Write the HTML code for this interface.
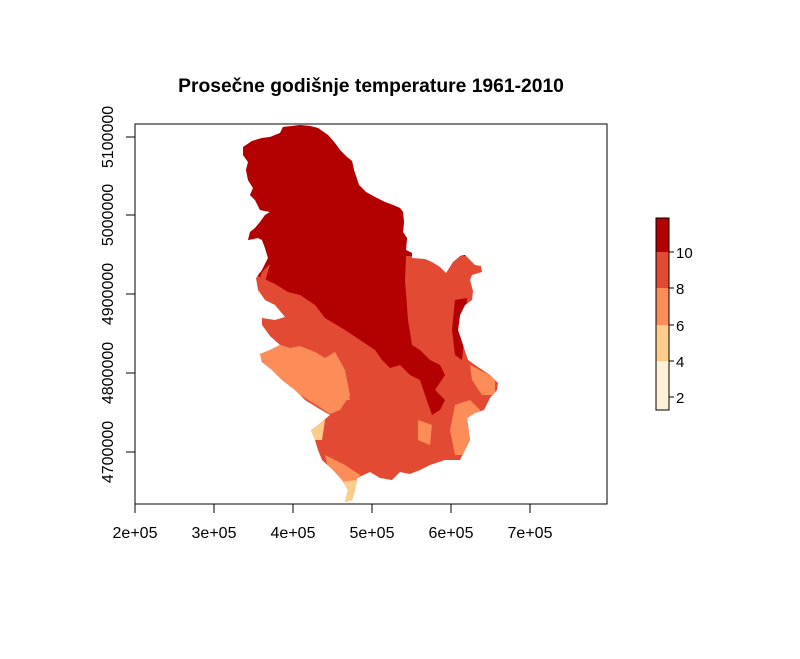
<!DOCTYPE html>
<html><head><meta charset="utf-8"><style>
body{margin:0;background:#fff}
svg{display:block}
text{font-family:"Liberation Sans",sans-serif;fill:#000}
</style></head><body>
<svg width="800" height="659" viewBox="0 0 800 659" xmlns="http://www.w3.org/2000/svg">
<rect width="800" height="659" fill="#fff"/>
<text x="371" y="92" font-size="19.3" font-weight="bold" text-anchor="middle">Prosečne godišnje temperature 1961-2010</text>
<defs><clipPath id="c"><polygon id="outline" points="243,147 252,141 262,138 270,137 280,133 283,127 292,126 300,125 310,126 318,128 328,135 335,143 340,150 347,157 352,161 354,170 359,185 366,192 375,197 385,202 393,205 400,208 403,212 404,222 403,232 407,238 406,250 412,253 412,258 425,259 432,262 440,267 446,273 453,262 460,256 465,255 470,260 475,265 481,266 482,272 472,275 470,280 473,291 472,300 465,305 460,315 458,330 463,345 468,360 478,367 490,375 498,383 497,390 490,398 484,410 475,413 467,418 470,440 465,450 460,460 445,460 430,465 420,470 410,474 400,472 392,480 380,478 370,472 357,478 355,490 352,500 345,502 348,490 342,480 333,470 322,460 318,450 315,440 311,430 318,425 330,415 318,408 305,400 295,390 282,380 272,370 262,362 260,354 270,350 280,345 270,336 262,325 262,318 275,320 285,317 275,305 265,300 258,290 256,278 262,270 268,258 265,248 262,240 258,238 248,240 250,232 255,228 260,222 265,215 270,212 260,210 255,200 250,195 253,188 248,180 246,170 248,162 243,155"/></clipPath></defs>
<g clip-path="url(#c)">
<rect x="230" y="120" width="280" height="390" fill="#E34A33"/>
<polygon fill="#FC8D59" points="258,352 275,343 290,348 300,346 315,352 325,358 335,352 345,370 350,395 340,410 330,414 318,406 305,398 292,390 280,378 266,368"/>
<polygon fill="#FC8D59" points="455,405 470,400 480,410 470,440 465,455 455,455 450,430"/>
<polygon fill="#FC8D59" points="470,365 495,378 495,395 482,395 472,380"/>
<polygon fill="#FC8D59" points="325,455 345,465 360,475 350,500 340,490 330,475"/>
<polygon fill="#FDCC8A" points="340,482 356,480 356,503 343,503"/>
<polygon fill="#FDCC8A" points="308,424 325,420 322,440 312,440"/>
<polygon fill="#FC8D59" points="330,380 345,380 350,400 335,400"/>
<polygon fill="#FC8D59" points="418,420 432,425 430,445 418,440"/>
<polygon fill="#B30000" points="230,120 510,120 510,256 406,256 405,280 408,320 412,345 420,350 430,360 440,365 445,375 435,390 445,400 440,410 432,415 425,395 420,380 410,375 400,365 390,368 382,360 375,350 360,340 345,330 325,318 315,305 300,295 288,292 275,284 258,276 230,272"/>
<polygon fill="#B30000" points="455,300 467,298 465,330 462,360 455,355 452,330"/>
<polygon fill="#E34A33" points="262,272 270,264 265,282 258,285"/>
</g>
<rect x="135" y="124" width="472" height="380" fill="none" stroke="#000" stroke-width="1"/>
<g stroke="#000" stroke-width="1">
<line x1="135" y1="504" x2="135" y2="513"/><line x1="214" y1="504" x2="214" y2="513"/><line x1="293" y1="504" x2="293" y2="513"/><line x1="372" y1="504" x2="372" y2="513"/><line x1="451" y1="504" x2="451" y2="513"/><line x1="530" y1="504" x2="530" y2="513"/>
<line x1="126" y1="137" x2="135" y2="137"/><line x1="126" y1="215" x2="135" y2="215"/><line x1="126" y1="294" x2="135" y2="294"/><line x1="126" y1="373" x2="135" y2="373"/><line x1="126" y1="452" x2="135" y2="452"/>
</g>
<g font-size="16" text-anchor="middle">
<text x="135" y="538">2e+05</text><text x="214" y="538">3e+05</text><text x="293" y="538">4e+05</text><text x="372" y="538">5e+05</text><text x="451" y="538">6e+05</text><text x="530" y="538">7e+05</text>
<text transform="translate(113,137) rotate(-90)">5100000</text>
<text transform="translate(113,215) rotate(-90)">5000000</text>
<text transform="translate(113,294) rotate(-90)">4900000</text>
<text transform="translate(113,373) rotate(-90)">4800000</text>
<text transform="translate(113,452) rotate(-90)">4700000</text>
</g>
<rect x="656" y="218" width="13" height="34" fill="#B30000"/>
<rect x="656" y="252" width="13" height="36" fill="#E34A33"/>
<rect x="656" y="288" width="13" height="37" fill="#FC8D59"/>
<rect x="656" y="325" width="13" height="36" fill="#FDCC8A"/>
<rect x="656" y="361" width="13" height="49" fill="#FEF0D9"/>
<rect x="656" y="218" width="13" height="192" fill="none" stroke="#000"/>
<g stroke="#000"><line x1="669" y1="252" x2="674" y2="252"/><line x1="669" y1="288" x2="674" y2="288"/><line x1="669" y1="325" x2="674" y2="325"/><line x1="669" y1="361" x2="674" y2="361"/><line x1="669" y1="397" x2="674" y2="397"/></g>
<g font-size="15"><text x="676" y="258">10</text><text x="676" y="294">8</text><text x="676" y="331">6</text><text x="676" y="367">4</text><text x="676" y="403">2</text></g>
</svg>
</body></html>
